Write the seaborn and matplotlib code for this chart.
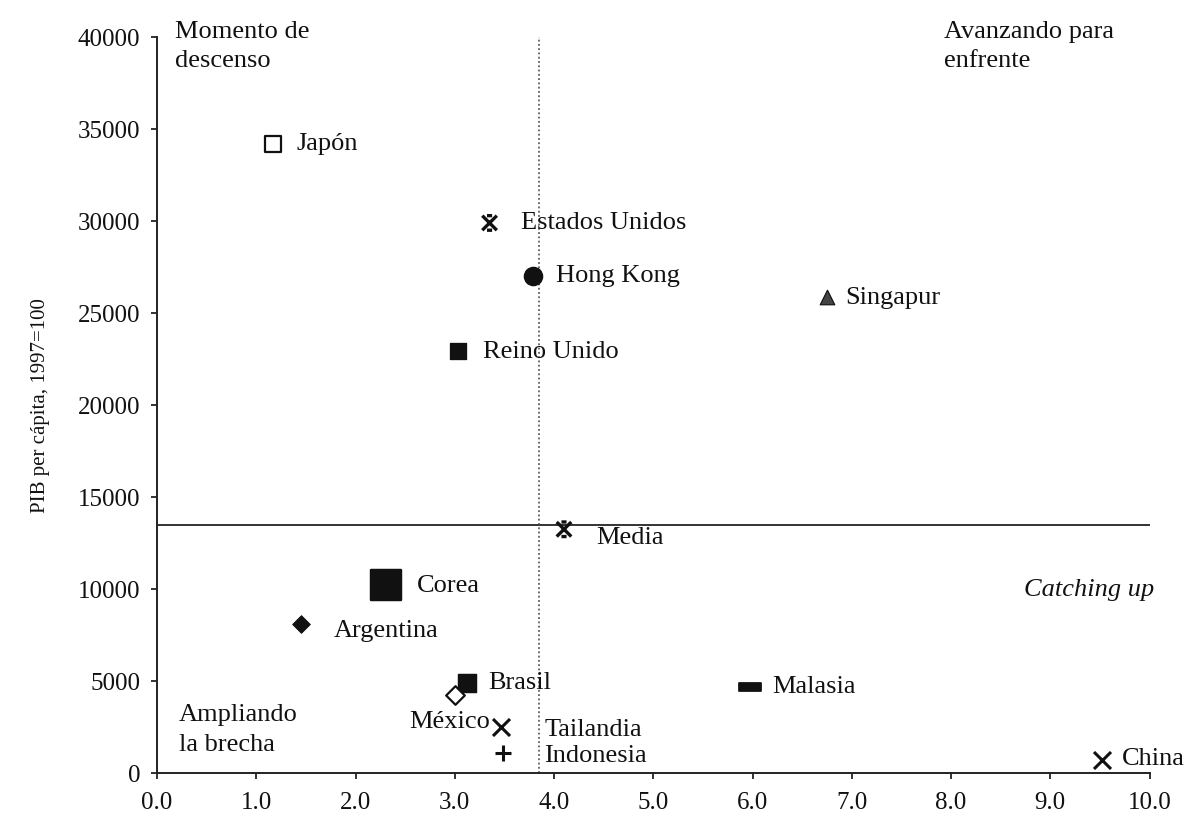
import matplotlib
matplotlib.use("Agg")
import matplotlib.pyplot as plt
import seaborn as sns
import numpy as np
from matplotlib.path import Path

# ---- data ----
countries = ["Japón", "Estados Unidos", "Hong Kong", "Singapur", "Reino Unido", "Media",
             "Corea", "Argentina", "Brasil", "México", "Tailandia", "Indonesia", "Malasia", "China"]
growth = [1.17, 3.35, 3.79, 6.75, 3.03, 4.10, 2.31, 1.45, 3.12, 3.00, 3.47, 3.49, 5.97, 9.52]
gdp_pc = [34200, 29900, 27000, 25900, 22950, 13250, 10200, 8100, 4900, 4250, 2500, 1100, 4650, 700]
mean_gdp = 13500
mean_growth = 3.85
x_ticks = [0.0, 1.0, 2.0, 3.0, 4.0, 5.0, 6.0, 7.0, 8.0, 9.0, 10.0]
y_ticks = [0, 5000, 10000, 15000, 20000, 25000, 30000, 35000, 40000]

sns.set_style("ticks")
plt.rcParams['font.family'] = ['Liberation Serif', 'DejaVu Serif']

fig = plt.figure(figsize=(11.9, 8.25), dpi=100)
ax = fig.add_axes([0.132, 0.063, 0.834, 0.892])

ink = "#111111"
capx = Path([(-1, -1), (1, 1), (-1, 1), (1, -1), (-0.35, 1), (0.35, 1), (-0.35, -1), (0.35, -1)],
            [Path.MOVETO, Path.LINETO, Path.MOVETO, Path.LINETO,
             Path.MOVETO, Path.LINETO, Path.MOVETO, Path.LINETO])
dash = Path([(-1, -0.32), (1, -0.32), (1, 0.32), (-1, 0.32), (-1, -0.32)],
            [Path.MOVETO, Path.LINETO, Path.LINETO, Path.LINETO, Path.CLOSEPOLY])

styles = {
    "Japón": dict(marker="s", s=120, facecolor="white", edgecolor=ink, linewidth=1.6),
    "Estados Unidos": dict(marker=capx, s=110, facecolor="none", edgecolor=ink, linewidth=2.4),
    "Hong Kong": dict(marker="o", s=170, color=ink, edgecolor=ink),
    "Singapur": dict(marker="^", s=110, color="#444444", edgecolor=ink),
    "Reino Unido": dict(marker="s", s=140, color=ink, edgecolor=ink),
    "Media": dict(marker=capx, s=110, facecolor="none", edgecolor=ink, linewidth=2.4),
    "Corea": dict(marker="s", s=480, color=ink, edgecolor=ink),
    "Argentina": dict(marker="D", s=80, color=ink, edgecolor=ink),
    "Brasil": dict(marker="s", s=170, color=ink, edgecolor=ink),
    "México": dict(marker="D", s=90, facecolor="white", edgecolor=ink, linewidth=1.6),
    "Tailandia": dict(marker="x", s=150, color=ink, linewidth=2.2),
    "Indonesia": dict(marker="+", s=120, color=ink, linewidth=2.2),
    "Malasia": dict(marker=dash, s=260, color=ink, edgecolor=ink),
    "China": dict(marker="x", s=150, color=ink, linewidth=2.2),
}

for c, xv, yv in zip(countries, growth, gdp_pc):
    sns.scatterplot(x=[xv], y=[yv], ax=ax, zorder=4, legend=False, **styles[c])

# reference lines
ax.axhline(mean_gdp, color="#333333", linewidth=1.4, zorder=2)
ax.axvline(mean_growth, color="#444444", linewidth=1.1, linestyle=(0, (1.2, 1.6)), zorder=2)

# label anchor positions
label_pos = {
    "Japón": (1.40, 34200, "left"),
    "Estados Unidos": (3.67, 29900, "left"),
    "Hong Kong": (4.02, 27000, "left"),
    "Singapur": (6.93, 25800, "left"),
    "Reino Unido": (3.28, 22900, "left"),
    "Media": (4.42, 12800, "left"),
    "Corea": (2.62, 10150, "left"),
    "Argentina": (1.78, 7700, "left"),
    "Brasil": (3.34, 4900, "left"),
    "México": (3.36, 2800, "right"),
    "Tailandia": (3.90, 2350, "left"),
    "Indonesia": (3.90, 950, "left"),
    "Malasia": (6.20, 4650, "left"),
    "China": (9.72, 750, "left"),
}
fs = 19
for c in countries:
    lx, ly, ha = label_pos[c]
    ax.text(lx, ly, c, ha=ha, va="center", fontsize=fs, color=ink, clip_on=False, zorder=5)

ax.text(0.18, 40300, "Momento de", fontsize=fs, color=ink, va="center", clip_on=False)
ax.text(0.18, 38700, "descenso", fontsize=fs, color=ink, va="center", clip_on=False)
ax.text(7.93, 40300, "Avanzando para", fontsize=fs, color=ink, va="center", clip_on=False)
ax.text(7.93, 38700, "enfrente", fontsize=fs, color=ink, va="center", clip_on=False)
ax.text(10.05, 9950, "Catching up", fontsize=fs, color=ink, va="center", ha="right",
        style="italic", clip_on=False)
ax.text(0.22, 3150, "Ampliando", fontsize=fs, color=ink, va="center", clip_on=False)
ax.text(0.22, 1550, "la brecha", fontsize=fs, color=ink, va="center", clip_on=False)

ax.set_xlim(0, 10.0)
ax.set_ylim(0, 40000)
ax.set_xticks(x_ticks)
ax.set_xticklabels([f"{t:.1f}" for t in x_ticks])
ax.set_yticks(y_ticks)
ax.set_yticklabels([str(t) for t in y_ticks])
ax.tick_params(axis="both", labelsize=18, colors=ink, length=4, width=1.2, direction="out")
ax.tick_params(axis="x", pad=10)
ax.tick_params(axis="y", pad=8)
ax.set_xlabel("")
ax.set_ylabel("PIB per cápita, 1997=100", fontsize=15, color=ink, labelpad=20)

sns.despine(ax=ax)
for sp in ["left", "bottom"]:
    ax.spines[sp].set_linewidth(1.4)
    ax.spines[sp].set_color("#222222")

fig.savefig("out.png", dpi=100)
